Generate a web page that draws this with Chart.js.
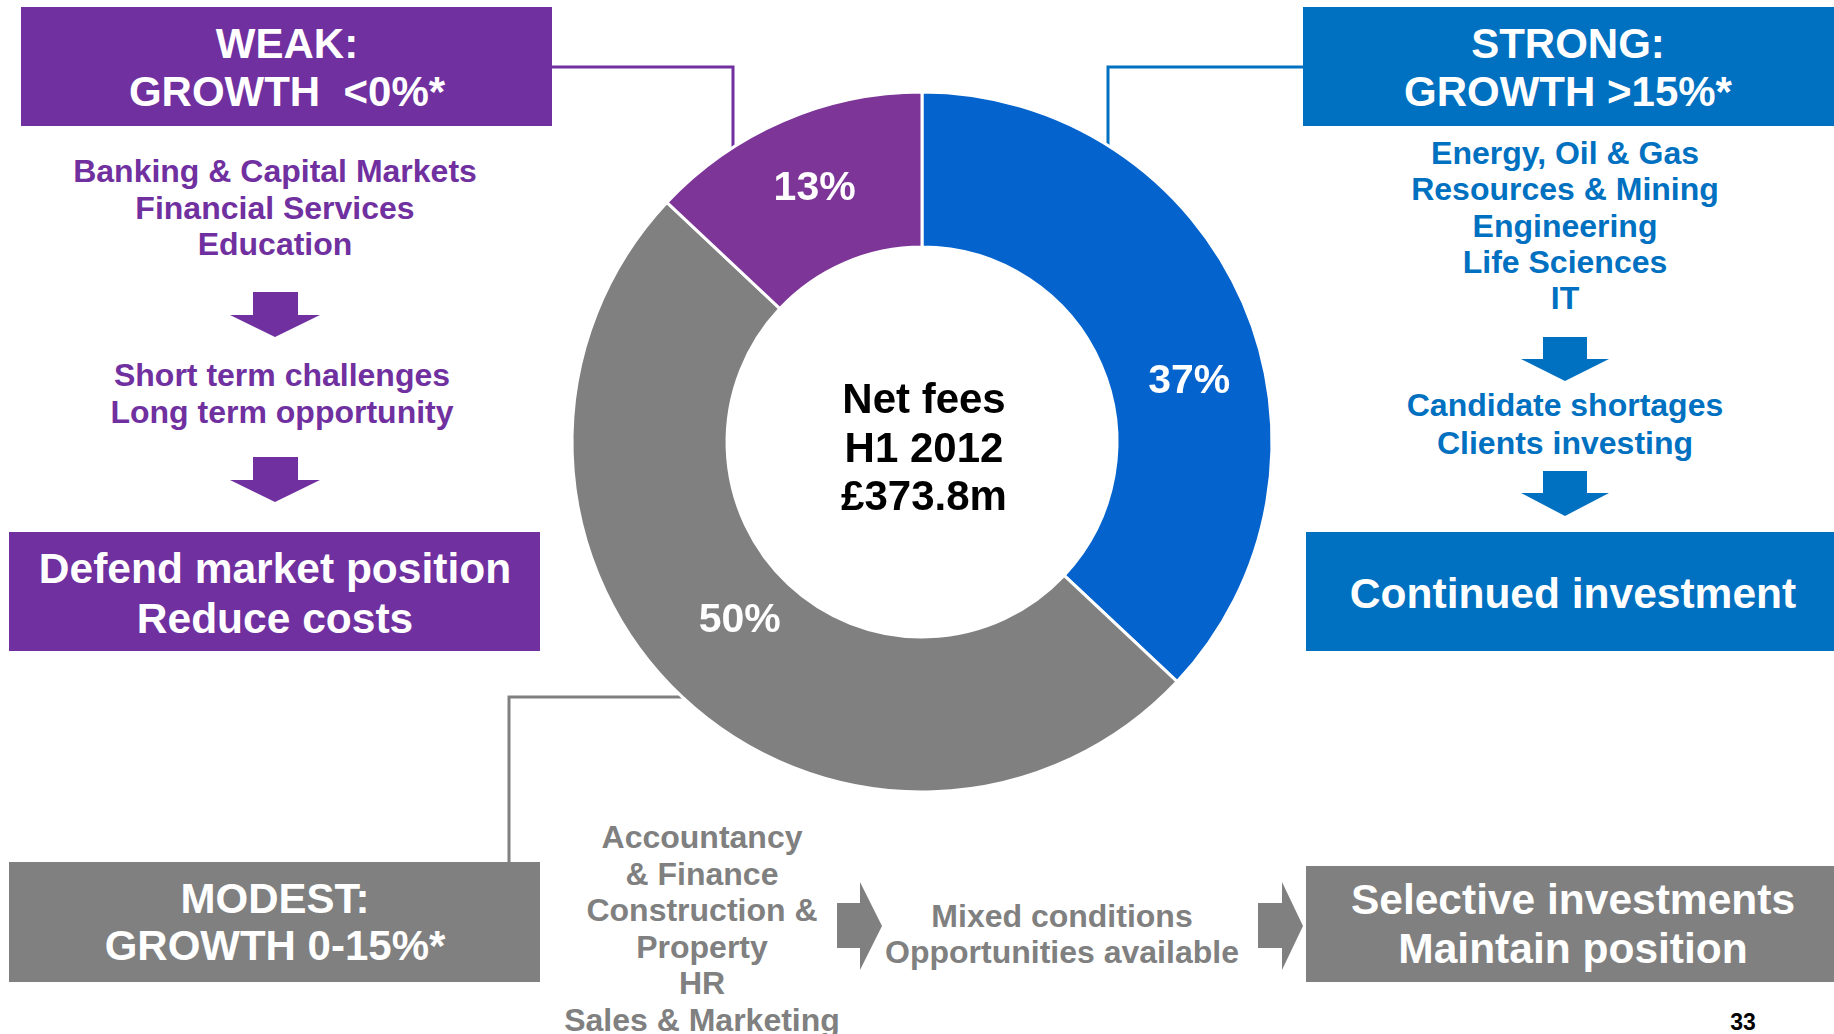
<!DOCTYPE html>
<html>
<head>
<meta charset="utf-8">
<script src="https://cdn.jsdelivr.net/npm/chart.js@4.4.1/dist/chart.umd.min.js"></script>
<style>
  html, body { margin: 0; padding: 0; background: #fff; }
  body { width: 1834px; height: 1034px; position: relative; overflow: hidden;
         font-family: "Liberation Sans", Arial, sans-serif; font-weight: bold; }
  .box { position: absolute; }
  .txt { position: absolute; width: 800px; text-align: center; white-space: nowrap; }
  #links { position: absolute; left: 0; top: 0; }
  #donut { position: absolute; left: 542px; top: 62px; }
</style>
</head>
<body>

<svg id="links" width="1834" height="1034">
  <!-- connectors from the boxes to the ring -->
  <polyline points="552,67 733,67 733,170" fill="none" stroke="#7030A0" stroke-width="3"/>
  <polyline points="1303,67 1108,67 1108,170" fill="none" stroke="#0070C0" stroke-width="3"/>
  <polyline points="700,697 509,697 509,862" fill="none" stroke="#808080" stroke-width="3"/>
  <!-- down arrows -->
  <polygon points="253,292 298,292 298,315 320,315 275,337 230,315 253,315" fill="#7030A0"/>
  <polygon points="253,457 298,457 298,480 320,480 275,502 230,480 253,480" fill="#7030A0"/>
  <polygon points="1543,337 1587,337 1587,359 1609,359 1565,381 1521,359 1543,359" fill="#0070C0"/>
  <polygon points="1543,471 1587,471 1587,493 1609,493 1565,516 1521,493 1543,493" fill="#0070C0"/>
  <!-- right arrows -->
  <polygon points="837,903 860,903 860,882 882,926 860,970 860,948 837,948" fill="#808080"/>
  <polygon points="1258,903 1282,903 1282,882 1303,926 1282,970 1282,948 1258,948" fill="#808080"/>
</svg>

<div class="box" style="left:21px;top:7px;width:531px;height:119px;background:#7030A0"></div>
<div class="box" style="left:1303px;top:7px;width:531px;height:119px;background:#0070C0"></div>
<div class="box" style="left:9px;top:532px;width:531px;height:119px;background:#7030A0"></div>
<div class="box" style="left:1306px;top:532px;width:528px;height:119px;background:#0070C0"></div>
<div class="box" style="left:9px;top:862px;width:531px;height:120px;background:#808080"></div>
<div class="box" style="left:1306px;top:866px;width:528px;height:116px;background:#808080"></div>

<div class="txt" style="left:-113px;top:20px;font-size:42px;line-height:48px;color:#fff">WEAK:<br>GROWTH&nbsp;&nbsp;&lt;0%*</div>
<div class="txt" style="left:1168px;top:20px;font-size:42px;line-height:48px;color:#fff">STRONG:<br>GROWTH &gt;15%*</div>

<div class="txt" style="left:-125px;top:153px;font-size:32px;line-height:36.5px;color:#7030A0">Banking &amp; Capital Markets<br>Financial Services<br>Education</div>
<div class="txt" style="left:-118px;top:357px;font-size:32px;line-height:37px;color:#7030A0">Short term challenges<br>Long term opportunity</div>
<div class="txt" style="left:-125px;top:544px;font-size:42.5px;line-height:50px;color:#fff">Defend market position<br>Reduce costs</div>

<div class="txt" style="left:1165px;top:135px;font-size:32px;line-height:36.3px;color:#0070C0">Energy, Oil &amp; Gas<br>Resources &amp; Mining<br>Engineering<br>Life Sciences<br>IT</div>
<div class="txt" style="left:1165px;top:386px;font-size:32px;line-height:38px;color:#0070C0">Candidate shortages<br>Clients investing</div>
<div class="txt" style="left:1173px;top:570px;font-size:42.5px;line-height:48px;color:#fff">Continued investment</div>

<div class="txt" style="left:-125px;top:875px;font-size:42px;line-height:47px;color:#fff">MODEST:<br>GROWTH 0-15%*</div>
<div class="txt" style="left:302px;top:819px;font-size:32px;line-height:36.6px;color:#808080">Accountancy<br>&amp; Finance<br>Construction &amp;<br>Property<br>HR<br>Sales &amp; Marketing</div>
<div class="txt" style="left:662px;top:898px;font-size:32px;line-height:36px;color:#808080">Mixed conditions<br>Opportunities available</div>
<div class="txt" style="left:1173px;top:875px;font-size:42.5px;line-height:49px;color:#fff">Selective investments<br>Maintain position</div>

<div class="txt" style="left:1343px;top:1010px;font-size:23px;line-height:24px;color:#000">33</div>

<canvas id="donut" width="760" height="760"></canvas>

<script>
// H1 2012 net fees split by growth band
var segments = ['Strong: growth >15%', 'Modest: growth 0-15%', 'Weak: growth <0%'];
var shares = [37, 50, 13];
var shareLabels = ['37%', '50%', '13%'];
var sliceColours = ['#0563CD', '#808080', '#7D3598'];
var centreLines = ['Net fees', 'H1 2012', '£373.8m'];

// writes the % labels in the ring and the total in the hole
var ringText = {
    id: 'ringText',
    afterDatasetsDraw: function (chart, args, opts) {
        var ctx = chart.ctx;
        var arcs = chart.getDatasetMeta(0).data;
        ctx.save();
        ctx.textAlign = 'center';
        ctx.textBaseline = 'middle';
        ctx.font = 'bold 41px "Liberation Sans", Arial, sans-serif';
        ctx.fillStyle = '#fff';
        arcs.forEach(function (arc, i) {
            var p = arc.getProps(['x', 'y', 'startAngle', 'endAngle', 'innerRadius', 'outerRadius'], true);
            var a = p.startAngle + (p.endAngle - p.startAngle) * opts.along[i];
            var r = p.innerRadius + (p.outerRadius - p.innerRadius) * opts.across[i];
            ctx.fillText(shareLabels[i], p.x + Math.cos(a) * r, p.y + Math.sin(a) * r);
        });
        var c = arcs[0];
        ctx.font = 'bold 42px "Liberation Sans", Arial, sans-serif';
        ctx.fillStyle = '#000';
        centreLines.forEach(function (line, i) {
            ctx.fillText(line, c.x + 2, c.y + 8 + (i - 1) * 48.5);
        });
        ctx.restore();
    }
};

var chart = new Chart(document.getElementById('donut'), {
    type: 'doughnut',
    data: {
        labels: segments,
        datasets: [{
            data: shares,
            backgroundColor: sliceColours,
            borderColor: '#fff',
            borderWidth: 3
        }]
    },
    options: {
        responsive: false,
        animation: false,
        radius: 350,
        cutout: '55.7%',
        plugins: {
            legend: { display: false },
            tooltip: { enabled: false },
            ringText: { along: [0.58, 0.513, 0.51], across: [0.51, 0.39, 0.52] }
        }
    },
    plugins: [ringText]
});
</script>
</body>
</html>
